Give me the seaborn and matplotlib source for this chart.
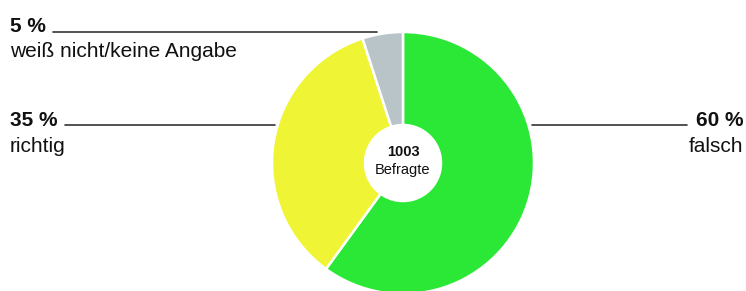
import matplotlib
matplotlib.use("Agg")
import matplotlib.pyplot as plt
import seaborn as sns

categories = ["falsch", "richtig", "weiß nicht/keine Angabe"]
values = [60, 35, 5]
pct_labels = ["60 %", "35 %", "5 %"]
colors = ["#2be836", "#eff534", "#b8c4c7"]
center_lines = ["1003", "Befragte"]

sns.set_theme(style="white")
plt.rcParams["font.family"] = ["Liberation Sans", "DejaVu Sans"]

W, H = 746, 291
fig = plt.figure(figsize=(W / 100, H / 100), dpi=100)
ax = fig.add_axes([0, 0, 1, 1])

def Y(py):
    return H - py

cx, cy, R, r = 403, 163, 131, 38
ax.pie(values, colors=colors, startangle=90, counterclock=False,
       center=(cx, Y(cy)), radius=R,
       wedgeprops=dict(width=R - r, edgecolor="white", linewidth=1.8))

# center text
ax.text(cx, Y(152), center_lines[0], ha="center", va="center",
        fontsize=10.5, fontweight="bold", color="#111111")
ax.text(cx, Y(170), center_lines[1], ha="center", va="center",
        fontsize=10.5, color="#111111")

lc = "#333333"
fs = 15
# 5 % label (top left)
ax.plot([53, 377], [Y(31.5), Y(31.5)], color=lc, lw=1.2)
ax.text(10, Y(32), pct_labels[2], ha="left", va="baseline",
        fontsize=fs, fontweight="bold", color="#111111")
ax.text(10, Y(57), categories[2], ha="left", va="baseline",
        fontsize=fs, color="#111111")

# 35 % label (left)
ax.plot([65, 275], [Y(124.5), Y(124.5)], color=lc, lw=1.2)
ax.text(10, Y(126), pct_labels[1], ha="left", va="baseline",
        fontsize=fs, fontweight="bold", color="#111111")
ax.text(10, Y(152), categories[1], ha="left", va="baseline",
        fontsize=fs, color="#111111")

# 60 % label (right)
ax.plot([532, 687], [Y(124.5), Y(124.5)], color=lc, lw=1.2)
ax.text(743, Y(126), pct_labels[0], ha="right", va="baseline",
        fontsize=fs, fontweight="bold", color="#111111")
ax.text(743, Y(152), categories[0], ha="right", va="baseline",
        fontsize=fs, color="#111111")

ax.set_xlim(0, W)
ax.set_ylim(0, H)
ax.set_aspect("equal")
ax.axis("off")

fig.savefig("out.png", dpi=100, facecolor="white")
